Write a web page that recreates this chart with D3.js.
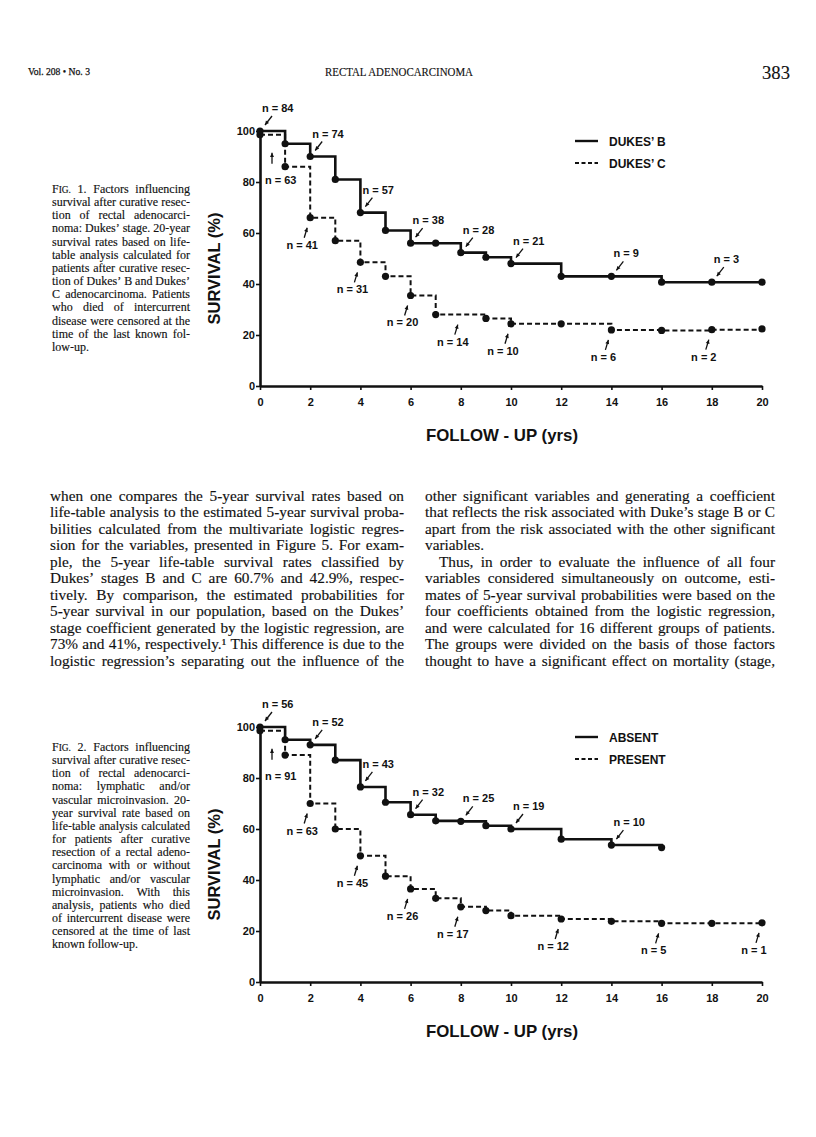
<!DOCTYPE html>
<html>
<head>
<meta charset="utf-8">
<script src="https://cdnjs.cloudflare.com/ajax/libs/d3/7.8.5/d3.min.js"></script>
<style>
  body { margin: 0; background: #fff; }
  .serif { font-family: "Liberation Serif", "DejaVu Serif", serif; fill: #111; stroke: #111; stroke-width: 0.15px; }
  .sans  { font-family: "Liberation Sans", Arial, sans-serif; font-weight: bold; fill: #111; }
</style>
</head>
<body>
<svg id="page" width="816" height="1137"></svg>
<script>

// ---- data ----
var xTicks = [0, 2, 4, 6, 8, 10, 12, 14, 16, 18, 20];
var yTicks = [0, 20, 40, 60, 80, 100];

// Fig. 1  Dukes' stage
var dukesBYears  = [0, 1, 2, 3, 4, 5, 6, 7, 8, 9, 10, 12, 14, 16, 18, 20];
var dukesBSurv   = [100, 95, 90, 81, 68, 61, 56, 56, 52.3, 50.5, 48, 43, 43, 40.7, 40.7, 40.7];
var dukesCYears  = [0, 1, 2, 3, 4, 5, 6, 7, 9, 10, 12, 14, 16, 18, 20];
var dukesCSurv   = [98.5, 86, 66, 57, 48.5, 43, 35.5, 28, 26.5, 24.4, 24.4, 22, 21.8, 22.1, 22.4];
var dukesBN      = [84, 74, 57, 38, 28, 21, 9, 3];
var dukesBNYears = [0, 2, 4, 6, 8, 10, 14, 18];
var dukesCN      = [63, 41, 31, 20, 14, 10, 6, 2];
var dukesCNYears = [0, 2, 4, 6, 8, 10, 14, 18];

// Fig. 2  lymphatic and/or vascular microinvasion
var absentYears   = [0, 1, 2, 3, 4, 5, 6, 7, 8, 9, 10, 12, 14, 16];
var absentSurv    = [100, 95, 93, 87, 76.5, 70.5, 65.6, 63.2, 63, 61.3, 60, 56, 53.7, 52.7];
var presentYears  = [0, 1, 2, 3, 4, 5, 6, 7, 8, 9, 10, 12, 14, 16, 18, 20];
var presentSurv   = [98.5, 89, 70, 60, 49.5, 41.5, 36.5, 32.8, 29.5, 28, 26, 24.7, 23.8, 23, 23, 23.2];
var absentN       = [56, 52, 43, 32, 25, 19, 10];
var absentNYears  = [0, 2, 4, 6, 8, 10, 14];
var presentN      = [91, 63, 45, 26, 17, 12, 5, 1];
var presentNYears = [0, 2, 4, 6, 8, 12, 16, 20];

// ---- page text ----
var caption1 = [
  "FIG. 1. Factors influencing",
  "survival after curative resec-", "tion of rectal adenocarci-", "noma: Dukes\u2019 stage. 20-year",
  "survival rates based on life-", "table analysis calculated for", "patients after curative resec-",
  "tion of Dukes\u2019 B and Dukes\u2019", "C adenocarcinoma. Patients", "who died of intercurrent",
  "disease were censored at the", "time of the last known fol-", "low-up."];
var caption2 = [
  "FIG. 2. Factors influencing",
  "survival after curative resec-", "tion of rectal adenocarci-", "noma: lymphatic and/or",
  "vascular microinvasion. 20-", "year survival rate based on", "life-table analysis calculated",
  "for patients after curative", "resection of a rectal adeno-", "carcinoma with or without",
  "lymphatic and/or vascular", "microinvasion. With this", "analysis, patients who died",
  "of intercurrent disease were", "censored at the time of last", "known follow-up."];
var leftCol = [
  "when one compares the 5-year survival rates based on",
  "life-table analysis to the estimated 5-year survival proba-",
  "bilities calculated from the multivariate logistic regres-",
  "sion for the variables, presented in Figure 5. For exam-",
  "ple, the 5-year life-table survival rates classified by",
  "Dukes\u2019 stages B and C are 60.7% and 42.9%, respec-",
  "tively. By comparison, the estimated probabilities for",
  "5-year survival in our population, based on the Dukes\u2019",
  "stage coefficient generated by the logistic regression, are",
  "73% and 41%, respectively.\u00B9 This difference is due to the",
  "logistic regression\u2019s separating out the influence of the"];
var rightCol = [
  "other significant variables and generating a coefficient",
  "that reflects the risk associated with Duke\u2019s stage B or C",
  "apart from the risk associated with the other significant",
  "variables.",
  "Thus, in order to evaluate the influence of all four",
  "variables considered simultaneously on outcome, esti-",
  "mates of 5-year survival probabilities were based on the",
  "four coefficients obtained from the logistic regression,",
  "and were calculated for 16 different groups of patients.",
  "The groups were divided on the basis of those factors",
  "thought to have a significant effect on mortality (stage,"];

var svg = d3.select("#page");

// one word; returns its natural width
function word(parent, y, str, size) {
  var t = parent.append("text").attr("class", "serif")
      .attr("y", y).style("font-size", size + "px");
  if (str === "FIG.") {
    t.append("tspan").text("F");
    t.append("tspan").style("font-size", (size * 0.78) + "px").text("IG.");
  } else {
    t.text(str);
  }
  return t.node().getComputedTextLength();
}

// justified line laid out word by word; glyphs widened by `stretch`,
// narrowed again when the line would not fit with a minimal gap
function textLine(parent, x, y, width, str, size, justify, stretch) {
  var g = parent.append("g");
  var words = str.split(" ");
  var ws = words.map(function(s) { return word(g, y, s, size) * stretch; });
  var minGap = size * 0.22;
  var total = d3.sum(ws);
  var room = width - minGap * (words.length - 1);
  if (total > room) {
    var f = room / total;
    ws = ws.map(function(w) { return w * f; });
    total = room;
  }
  var gap = justify && words.length > 1 ? (width - total) / (words.length - 1) : size * 0.25 * stretch;
  var cx = x;
  g.selectAll("text").each(function(d, i) {
    d3.select(this).attr("x", cx)
        .attr("textLength", ws[i]).attr("lengthAdjust", "spacingAndGlyphs");
    cx += ws[i] + gap;
  });
}

// header
svg.append("text").attr("class", "serif").attr("x", 28).attr("y", 75)
    .style("font-size", "10px").style("stroke-width", "0.25px")
    .attr("textLength", 62).attr("lengthAdjust", "spacingAndGlyphs")
    .text("Vol. 208 \u2022 No. 3");
svg.append("text").attr("class", "serif").attr("x", 399).attr("y", 76)
    .attr("text-anchor", "middle").style("font-size", "13px")
    .attr("textLength", 148).attr("lengthAdjust", "spacingAndGlyphs")
    .text("RECTAL ADENOCARCINOMA");
svg.append("text").attr("class", "serif").attr("x", 790).attr("y", 79)
    .attr("text-anchor", "end").style("font-size", "19px")
    .attr("textLength", 28).attr("lengthAdjust", "spacingAndGlyphs").text("383");

// captions
function caption(lines, top) {
  var g = svg.append("g");
  lines.forEach(function(s, i) {
    textLine(g, 52, top + 13.15 * i, 138, s, 12, i < lines.length - 1, 1.0);
  });
}
caption(caption1, 193);
caption(caption2, 751);

// body columns
leftCol.forEach(function(s, i) {
  textLine(svg, 50, 501 + 16.45 * i, 354, s, 15, true, 1.02);
});
rightCol.forEach(function(s, i) {
  var indent = i === 4 ? 14 : 0;
  textLine(svg, 425 + indent, 501 + 16.45 * i, 350 - indent, s, 15, i !== 3, 1.02);
});

// ---- charts ----
var x = d3.scaleLinear().domain([0, 20]).range([260, 762]);

var step = function(y) {
  return d3.line().curve(d3.curveStepAfter)
    .x(function(d) { return x(d[0]); })
    .y(function(d) { return y(d[1]); });
};

function valueAt(years, vals, yr) {
  var v = vals[0];
  years.forEach(function(t, i) { if (t <= yr) v = vals[i]; });
  return v;
}

function arrow(g, x1, y1, x2, y2) {
  var a = Math.atan2(y2 - y1, x2 - x1), L = 4.5, s = 0.45;
  g.append("line").attr("x1", x1).attr("y1", y1).attr("x2", x2).attr("y2", y2)
      .attr("stroke", "#111").attr("stroke-width", 1.3);
  g.append("path")
      .attr("d", "M" + x2 + "," + y2 +
                 "L" + (x2 - L * Math.cos(a - s)) + "," + (y2 - L * Math.sin(a - s)) +
                 "L" + (x2 - L * Math.cos(a + s)) + "," + (y2 - L * Math.sin(a + s)) + "Z")
      .attr("fill", "#111");
}

function plot(top, bottom, solid, dashed, legendNames) {
  var y = d3.scaleLinear().domain([0, 100]).range([bottom, top]);
  var g = svg.append("g");

  var xa = g.append("g").attr("transform", "translate(0," + bottom + ")")
      .call(d3.axisBottom(x).tickValues(xTicks).tickSize(4).tickSizeOuter(0).tickPadding(8));
  var ya = g.append("g").attr("transform", "translate(" + x(0) + ",0)")
      .call(d3.axisLeft(y).tickValues(yTicks).tickSize(4).tickSizeOuter(0).tickPadding(1));
  [xa, ya].forEach(function(a) {
    a.select(".domain").attr("stroke", "#111").attr("stroke-width", 2.6);
    a.selectAll(".tick line").attr("stroke", "#111").attr("stroke-width", 1.6);
    a.selectAll(".tick text").attr("class", "sans").style("font-size", "11px").attr("fill", "#111");
  });

  // axis titles
  g.append("text").attr("class", "sans").attr("x", 502).attr("y", bottom + 55)
      .attr("text-anchor", "middle").style("font-size", "17px")
      .attr("textLength", 152).attr("lengthAdjust", "spacingAndGlyphs")
      .text("FOLLOW - UP  (yrs)");
  var cy = (top + bottom) / 2 + 10;
  g.append("text").attr("class", "sans")
      .attr("transform", "translate(220," + cy + ") rotate(-90)")
      .attr("text-anchor", "middle").style("font-size", "17px")
      .attr("textLength", 112).attr("lengthAdjust", "spacingAndGlyphs")
      .text("SURVIVAL (%)");

  // curves
  [dashed, solid].forEach(function(s) {
    var pts = s.years.map(function(t, i) { return [t, s.vals[i]]; });
    g.append("path").datum(pts).attr("d", step(y))
        .attr("fill", "none").attr("stroke", "#111")
        .attr("stroke-width", s.dash ? 2 : 2.6)
        .attr("stroke-dasharray", s.dash ? "5,3" : null);
    g.selectAll(null).data(pts).enter().append("circle")
        .attr("cx", function(d) { return x(d[0]); })
        .attr("cy", function(d) { return y(d[1]); })
        .attr("r", 3.6).attr("fill", "#111");
  });

  // n = labels: above the solid curve, below the dashed one
  solid.nYears.forEach(function(t, i) {
    var px = x(t), py = y(valueAt(solid.years, solid.vals, t));
    g.append("text").attr("class", "sans").attr("x", px + 2).attr("y", py - 19)
        .style("font-size", "11px").text("n = " + solid.n[i]);
    arrow(g, px + 12, py - 15, px + 5, py - 6);
  });
  dashed.nYears.forEach(function(t, i) {
    var px = x(t), py = y(valueAt(dashed.years, dashed.vals, t));
    if (t === 0) {
      g.append("text").attr("class", "sans").attr("x", px + 5).attr("y", py + 49)
          .style("font-size", "11px").text("n = " + dashed.n[i]);
      arrow(g, px + 12, py + 29, px + 12, py + 18);
      return;
    }
    g.append("text").attr("class", "sans").attr("x", px - 8).attr("y", py + 31)
        .attr("text-anchor", "middle").style("font-size", "11px").text("n = " + dashed.n[i]);
    arrow(g, px - 6, py + 20, px - 3, py + 10);
  });

  // legend
  var ly = top + 10;
  [0, 1].forEach(function(i) {
    g.append("line").attr("x1", 575).attr("x2", 598)
        .attr("y1", ly + i * 22).attr("y2", ly + i * 22)
        .attr("stroke", "#111").attr("stroke-width", i ? 1.8 : 2.4)
        .attr("stroke-dasharray", i ? "4,2.5" : null);
    g.append("text").attr("class", "sans").attr("x", 609).attr("y", ly + i * 22 + 4.5)
        .style("font-size", "12px").text(legendNames[i]);
  });
}

plot(131, 386,
  { years: dukesBYears, vals: dukesBSurv, n: dukesBN, nYears: dukesBNYears },
  { years: dukesCYears, vals: dukesCSurv, n: dukesCN, nYears: dukesCNYears, dash: true },
  ["DUKES\u2019 B", "DUKES\u2019 C"]);

plot(727, 982,
  { years: absentYears, vals: absentSurv, n: absentN, nYears: absentNYears },
  { years: presentYears, vals: presentSurv, n: presentN, nYears: presentNYears, dash: true },
  ["ABSENT", "PRESENT"]);

</script>
</body>
</html>
